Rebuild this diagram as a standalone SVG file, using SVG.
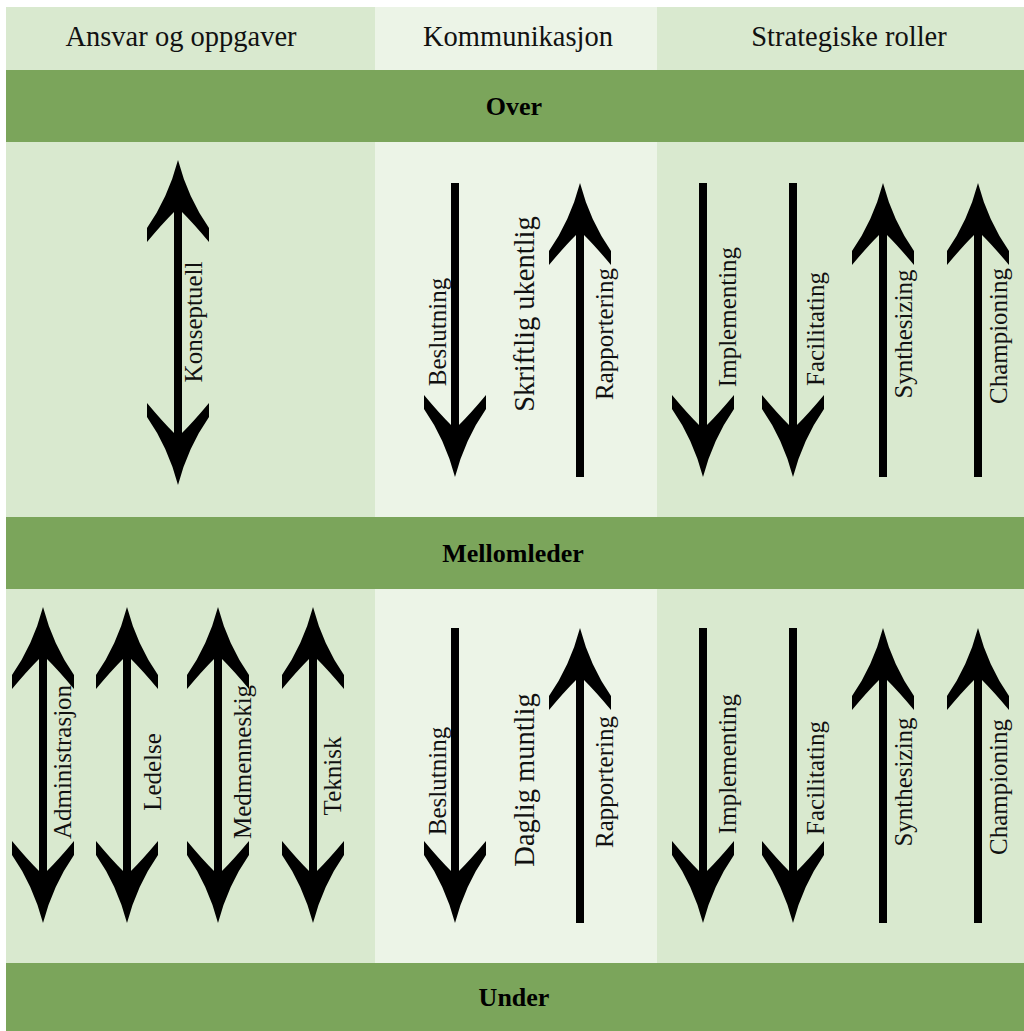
<svg xmlns="http://www.w3.org/2000/svg" xmlns:xlink="http://www.w3.org/1999/xlink" width="1024" height="1031" viewBox="0 0 1024 1031">
<style>
.c1{fill:#d9e9cf}
.c2{fill:#ecf4e7}
.band{fill:#7ba55b}
.hdr{font-family:"Liberation Serif","Times New Roman",serif;font-size:28.5px;fill:#111;text-anchor:middle}
.bt{font-family:"Liberation Serif","Times New Roman",serif;font-size:26px;font-weight:bold;fill:#000;text-anchor:middle}
.lb{font-family:"Liberation Serif","Times New Roman",serif;font-size:25px;fill:#111;text-anchor:middle}
.lb2{font-family:"Liberation Serif","Times New Roman",serif;font-size:28.5px;fill:#111;text-anchor:middle}
.shaft{stroke:#000;stroke-width:8;fill:none}
</style>
<defs>
<path id="head" d="M0,0 Q-10,38 -31,68 L-31,82 Q-16,64 -4,52 L4,52 Q16,64 31,82 L31,68 Q10,38 0,0 Z" fill="#000"/>
</defs>
<rect x="0" y="0" width="1024" height="1031" fill="#fff"/>
<g id="columns">
<rect class="c1" x="6" y="7" width="369" height="956"/>
<rect class="c2" x="375" y="7" width="282" height="956"/>
<rect class="c1" x="657" y="7" width="367" height="956"/>
</g>
<g id="headers">
<text class="hdr" x="181" y="46">Ansvar og oppgaver</text>
<text class="hdr" x="518" y="46">Kommunikasjon</text>
<text class="hdr" x="849" y="46">Strategiske roller</text>
</g>
<g id="band-over">
<rect class="band" x="6" y="70" width="1018" height="72"/>
<text class="bt" x="514" y="115">Over</text>
</g>
<g id="band-mellomleder">
<rect class="band" x="6" y="517" width="1018" height="72"/>
<text class="bt" x="513" y="562">Mellomleder</text>
</g>
<g id="band-under">
<rect class="band" x="6" y="963" width="1018" height="68"/>
<text class="bt" x="514" y="1006">Under</text>
</g>
<g id="connectors">
<line class="shaft" x1="178" y1="210" x2="178" y2="435"/>
<use xlink:href="#head" transform="translate(178,160)"/>
<use xlink:href="#head" transform="translate(178,485) scale(1,-1)"/>
<line class="shaft" x1="455" y1="183" x2="455" y2="427"/>
<use xlink:href="#head" transform="translate(455,477) scale(1,-1)"/>
<line class="shaft" x1="580" y1="233" x2="580" y2="477"/>
<use xlink:href="#head" transform="translate(580,183)"/>
<line class="shaft" x1="703" y1="183" x2="703" y2="427"/>
<use xlink:href="#head" transform="translate(703,477) scale(1,-1)"/>
<line class="shaft" x1="793" y1="183" x2="793" y2="427"/>
<use xlink:href="#head" transform="translate(793,477) scale(1,-1)"/>
<line class="shaft" x1="883" y1="233" x2="883" y2="477"/>
<use xlink:href="#head" transform="translate(883,183)"/>
<line class="shaft" x1="978" y1="233" x2="978" y2="477"/>
<use xlink:href="#head" transform="translate(978,183)"/>
<line class="shaft" x1="43" y1="657" x2="43" y2="873"/>
<use xlink:href="#head" transform="translate(43,607)"/>
<use xlink:href="#head" transform="translate(43,923) scale(1,-1)"/>
<line class="shaft" x1="127" y1="657" x2="127" y2="873"/>
<use xlink:href="#head" transform="translate(127,607)"/>
<use xlink:href="#head" transform="translate(127,923) scale(1,-1)"/>
<line class="shaft" x1="218" y1="657" x2="218" y2="873"/>
<use xlink:href="#head" transform="translate(218,607)"/>
<use xlink:href="#head" transform="translate(218,923) scale(1,-1)"/>
<line class="shaft" x1="313" y1="657" x2="313" y2="873"/>
<use xlink:href="#head" transform="translate(313,607)"/>
<use xlink:href="#head" transform="translate(313,923) scale(1,-1)"/>
<line class="shaft" x1="455" y1="628" x2="455" y2="873"/>
<use xlink:href="#head" transform="translate(455,923) scale(1,-1)"/>
<line class="shaft" x1="580" y1="678" x2="580" y2="923"/>
<use xlink:href="#head" transform="translate(580,628)"/>
<line class="shaft" x1="703" y1="628" x2="703" y2="873"/>
<use xlink:href="#head" transform="translate(703,923) scale(1,-1)"/>
<line class="shaft" x1="793" y1="628" x2="793" y2="873"/>
<use xlink:href="#head" transform="translate(793,923) scale(1,-1)"/>
<line class="shaft" x1="883" y1="678" x2="883" y2="923"/>
<use xlink:href="#head" transform="translate(883,628)"/>
<line class="shaft" x1="978" y1="678" x2="978" y2="923"/>
<use xlink:href="#head" transform="translate(978,628)"/>
</g>
<g id="labels">
<text class="lb" transform="translate(202,322) rotate(-90)">Konseptuell</text>
<text class="lb" transform="translate(446,332) rotate(-90)">Beslutning</text>
<text class="lb2" transform="translate(534,314) rotate(-90)">Skriftlig ukentlig</text>
<text class="lb" transform="translate(613,334) rotate(-90)">Rapportering</text>
<text class="lb" transform="translate(736,317) rotate(-90)">Implementing</text>
<text class="lb" transform="translate(824,329) rotate(-90)">Facilitating</text>
<text class="lb" transform="translate(912,334) rotate(-90)">Synthesizing</text>
<text class="lb" transform="translate(1007,336) rotate(-90)">Championing</text>
<text class="lb" transform="translate(71,762) rotate(-90)">Administrasjon</text>
<text class="lb" transform="translate(161,772) rotate(-90)">Ledelse</text>
<text class="lb" transform="translate(251,762) rotate(-90)">Medmenneskig</text>
<text class="lb" transform="translate(341,776) rotate(-90)">Teknisk</text>
<text class="lb" transform="translate(446,781) rotate(-90)">Beslutning</text>
<text class="lb2" transform="translate(534,780) rotate(-90)">Daglig muntlig</text>
<text class="lb" transform="translate(613,782) rotate(-90)">Rapportering</text>
<text class="lb" transform="translate(736,764) rotate(-90)">Implementing</text>
<text class="lb" transform="translate(824,778) rotate(-90)">Facilitating</text>
<text class="lb" transform="translate(912,782) rotate(-90)">Synthesizing</text>
<text class="lb" transform="translate(1007,787) rotate(-90)">Championing</text>
</g>
</svg>
